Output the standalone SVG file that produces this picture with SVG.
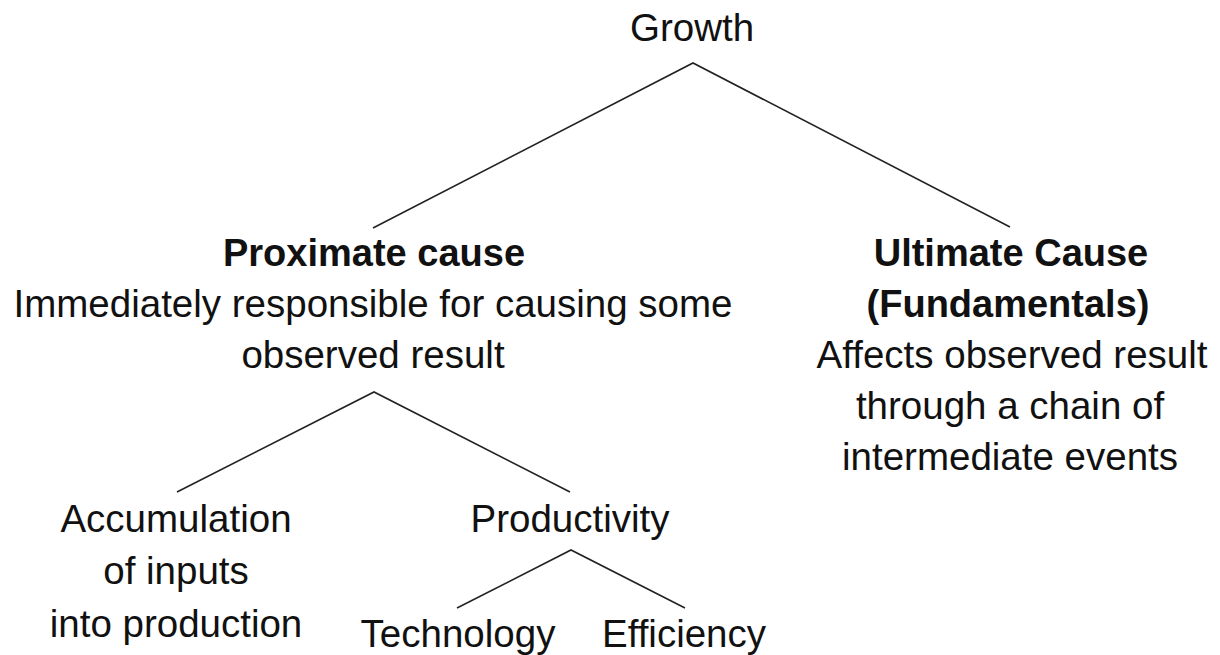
<svg xmlns="http://www.w3.org/2000/svg" width="1220" height="655" viewBox="0 0 1220 655">
  <style>
    text { font-family: "Liberation Sans", Arial, sans-serif; font-size: 38.5px; fill: #111; text-anchor: middle; }
    .b { font-weight: bold; font-size: 38px; }
    .edge { stroke: #222; stroke-width: 1.6; fill: none; }
  </style>
  <rect width="1220" height="655" fill="#fff"/>

  <!-- tree edges -->
  <g id="connectors">
    <polyline class="edge" points="373,228 693,63 1010,227"/>
    <polyline class="edge" points="177,492 374,392 570,492"/>
    <polyline class="edge" points="457,608 571,550 685,608"/>
  </g>

  <g id="growth">
    <text x="692" y="41">Growth</text>
  </g>

  <g id="proximate">
    <text class="b" x="374" y="266">Proximate cause</text>
    <text x="373" y="317">Immediately responsible for causing some</text>
    <text x="373" y="368">observed result</text>
  </g>

  <g id="ultimate">
    <text class="b" x="1011" y="266">Ultimate Cause</text>
    <text class="b" x="1008" y="317">(Fundamentals)</text>
    <text x="1012" y="368">Affects observed result</text>
    <text x="1010" y="419">through a chain of</text>
    <text x="1010" y="470">intermediate events</text>
  </g>

  <g id="accumulation">
    <text x="176" y="532">Accumulation</text>
    <text x="176" y="584">of inputs</text>
    <text x="176" y="637">into production</text>
  </g>

  <g id="productivity">
    <text x="570" y="532">Productivity</text>
  </g>

  <g id="technology">
    <text x="458" y="647">Technology</text>
  </g>

  <g id="efficiency">
    <text x="684" y="647">Efficiency</text>
  </g>
</svg>
